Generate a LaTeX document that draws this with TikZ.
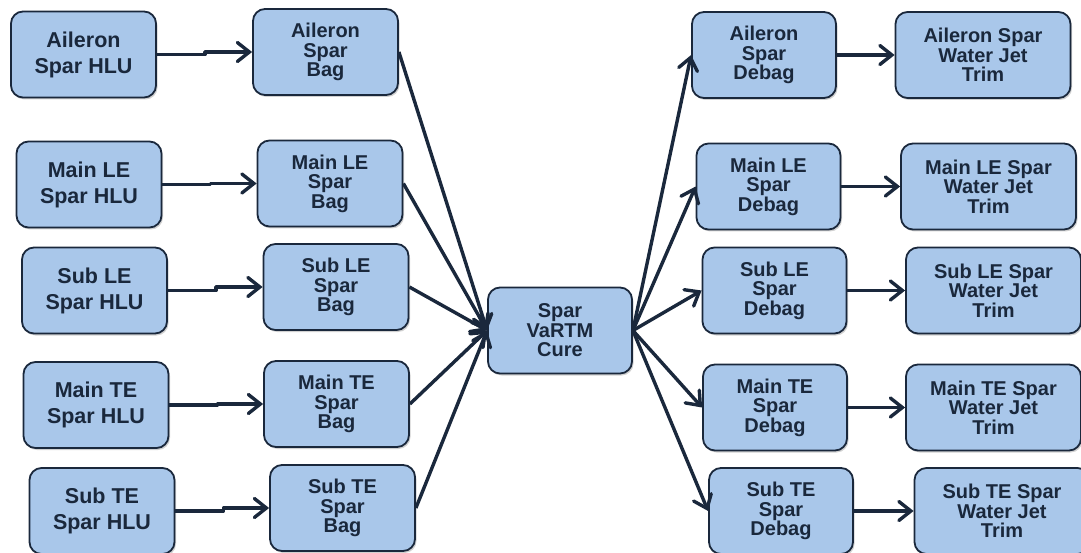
\documentclass[tikz,border=0pt]{standalone}
\usepackage{fontspec}
\setmainfont{Liberation Sans}
\usetikzlibrary{arrows.meta,shadows}
\definecolor{boxfill}{RGB}{169,199,234}
\definecolor{navy}{RGB}{26,40,60}
\tikzset{
  box/.style={draw=navy, line width=1.8pt, fill=boxfill, rounded corners=12pt,
    minimum width=145pt, minimum height=86pt, inner sep=0pt, align=center,
    text=navy, font=\bfseries\fontsize{20}{19.5}\selectfont,
    drop shadow={shadow xshift=1.5pt, shadow yshift=-2pt, opacity=0.18, fill=black}},
  hlu/.style={box, font=\bfseries\fontsize{21.5}{26}\selectfont},
  trim/.style={box, minimum width=175pt},
  flow/.style={draw=navy, line width=3.4pt, line join=round,
    -{Straight Barb[length=12pt,width=19pt,line cap=round]}}
}
\begin{document}
\begin{tikzpicture}[x=1pt,y=-1pt]
\useasboundingbox (0,0) rectangle (1081,553);
\clip (0,0) rectangle (1081,553);
\fill[white] (0,0) rectangle (1081,553);

% hand lay-up stations
\node[hlu] (h1) at (83.5,54.5) {Aileron\\Spar HLU};
\node[hlu] (h2) at (89,184.5) {Main LE\\Spar HLU};
\node[hlu] (h3) at (94.5,290.5) {Sub LE\\Spar HLU};
\node[hlu] (h4) at (96,405) {Main TE\\Spar HLU};
\node[hlu] (h5) at (102,511) {Sub TE\\Spar HLU};

% bagging
\node[box] (b1) at (325.5,52) {Aileron\\Spar\\Bag};
\node[box] (b2) at (330,183.5) {Main LE\\Spar\\Bag};
\node[box] (b3) at (336,287) {Sub LE\\Spar\\Bag};
\node[box] (b4) at (336.5,404) {Main TE\\Spar\\Bag};
\node[box] (b5) at (342.5,508) {Sub TE\\Spar\\Bag};

% cure
\node[box, minimum width=144pt] (cure) at (560,330.5) {Spar\\VaRTM\\Cure};

% debagging
\node[box, minimum width=144pt] (d1) at (764,55) {Aileron\\Spar\\Debag};
\node[box, minimum width=144pt] (d2) at (768.5,186.5) {Main LE\\Spar\\Debag};
\node[box, minimum width=144pt] (d3) at (774.5,290.5) {Sub LE\\Spar\\Debag};
\node[box, minimum width=144pt] (d4) at (775,407.5) {Main TE\\Spar\\Debag};
\node[box, minimum width=144pt] (d5) at (781,511) {Sub TE\\Spar\\Debag};

% trimming
\node[trim] (t1) at (983,55) {Aileron Spar\\Water Jet\\Trim};
\node[trim] (t2) at (988.5,186.5) {Main LE Spar\\Water Jet\\Trim};
\node[trim] (t3) at (993.5,290.5) {Sub LE Spar\\Water Jet\\Trim};
\node[trim] (t4) at (993.5,407.5) {Main TE Spar\\Water Jet\\Trim};
\node[trim] (t5) at (1002,511) {Sub TE Spar\\Water Jet\\Trim};

% connectors
\foreach \i in {1,...,5} {
  \draw[flow] (h\i.east) -- ++(48,0) |- (b\i.west);
  \draw[flow] (b\i.east) -- (cure.west);
  \draw[flow] (cure.east) -- (d\i.west);
  \draw[flow] (d\i.east) -- (t\i.west);
}
\end{tikzpicture}
\end{document}
